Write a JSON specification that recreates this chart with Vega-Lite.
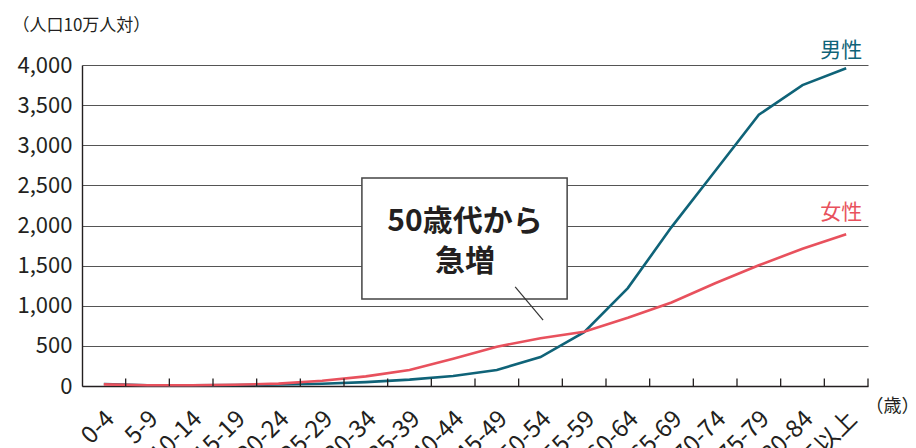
{
  "$schema": "https://vega.github.io/schema/vega-lite/v6.json",
  "width": 786,
  "height": 321,
  "autosize": {"type": "none"},
  "padding": {"left": 82, "top": 65, "right": 48, "bottom": 62},
  "background": "white",
  "config": {
    "view": {"stroke": null},
    "font": "Noto Sans CJK JP",
    "axis": {"labelFont": "Noto Sans CJK JP", "titleFont": "Noto Sans CJK JP", "labelColor": "#231f20", "titleColor": "#231f20"}
  },
  "datasets": {
    "rates": [
      {"age": "0-4", "sex": "男性", "value": 25},
      {"age": "5-9", "sex": "男性", "value": 10},
      {"age": "10-14", "sex": "男性", "value": 10},
      {"age": "15-19", "sex": "男性", "value": 12},
      {"age": "20-24", "sex": "男性", "value": 18},
      {"age": "25-29", "sex": "男性", "value": 28},
      {"age": "30-34", "sex": "男性", "value": 48},
      {"age": "35-39", "sex": "男性", "value": 80},
      {"age": "40-44", "sex": "男性", "value": 125},
      {"age": "45-49", "sex": "男性", "value": 200},
      {"age": "50-54", "sex": "男性", "value": 360},
      {"age": "55-59", "sex": "男性", "value": 670},
      {"age": "60-64", "sex": "男性", "value": 1220},
      {"age": "65-69", "sex": "男性", "value": 1980},
      {"age": "70-74", "sex": "男性", "value": 2680},
      {"age": "75-79", "sex": "男性", "value": 3380},
      {"age": "80-84", "sex": "男性", "value": 3750},
      {"age": "85以上", "sex": "男性", "value": 3960},
      {"age": "0-4", "sex": "女性", "value": 20},
      {"age": "5-9", "sex": "女性", "value": 10},
      {"age": "10-14", "sex": "女性", "value": 10},
      {"age": "15-19", "sex": "女性", "value": 15},
      {"age": "20-24", "sex": "女性", "value": 30},
      {"age": "25-29", "sex": "女性", "value": 65},
      {"age": "30-34", "sex": "女性", "value": 120},
      {"age": "35-39", "sex": "女性", "value": 200},
      {"age": "40-44", "sex": "女性", "value": 340},
      {"age": "45-49", "sex": "女性", "value": 490},
      {"age": "50-54", "sex": "女性", "value": 595},
      {"age": "55-59", "sex": "女性", "value": 675},
      {"age": "60-64", "sex": "女性", "value": 850},
      {"age": "65-69", "sex": "女性", "value": 1040},
      {"age": "70-74", "sex": "女性", "value": 1280},
      {"age": "75-79", "sex": "女性", "value": 1505},
      {"age": "80-84", "sex": "女性", "value": 1710},
      {"age": "85以上", "sex": "女性", "value": 1890}
    ],
    "labels": [
      {"age": "85以上", "sex": "男性", "value": 4175},
      {"age": "85以上", "sex": "女性", "value": 2160}
    ],
    "ticks": [
      {"age": "0-4", "lo": 0, "hi": 95}, {"age": "5-9", "lo": 0, "hi": 95}, {"age": "10-14", "lo": 0, "hi": 95},
      {"age": "15-19", "lo": 0, "hi": 95}, {"age": "20-24", "lo": 0, "hi": 95}, {"age": "25-29", "lo": 0, "hi": 95},
      {"age": "30-34", "lo": 0, "hi": 95}, {"age": "35-39", "lo": 0, "hi": 95}, {"age": "40-44", "lo": 0, "hi": 95},
      {"age": "45-49", "lo": 0, "hi": 95}, {"age": "50-54", "lo": 0, "hi": 95}, {"age": "55-59", "lo": 0, "hi": 95},
      {"age": "60-64", "lo": 0, "hi": 95}, {"age": "65-69", "lo": 0, "hi": 95}, {"age": "70-74", "lo": 0, "hi": 95},
      {"age": "75-79", "lo": 0, "hi": 95}, {"age": "80-84", "lo": 0, "hi": 95}, {"age": "85以上", "lo": 0, "hi": 95}
    ],
    "note": [
      {"x1": 6.41, "x2": 11.11, "y1": 2592, "y2": 1084, "lx1": 9.92, "ly1": 1234, "lx2": 10.56, "ly2": 822, "tx": 8.77, "ty1": 2043, "ty2": 1545, "line1": "50歳代から", "line2": "急増"}
    ]
  },
  "resolve": {"scale": {"x": "independent"}},
  "layer": [
    {
      "layer": [
        {
          "data": {"name": "rates"},
          "mark": {"type": "line", "strokeWidth": 2.6, "clip": false},
          "encoding": {
            "x": {
              "field": "age",
              "type": "ordinal",
              "sort": null,
              "scale": {"type": "band", "paddingInner": 0, "paddingOuter": 0},
              "axis": {
                "title": "（歳）",
                "titleFontSize": 18,
                "titleFontWeight": "normal",
                "titleAngle": 0,
                "titleAlign": "left",
                "titleBaseline": "middle",
                "titleX": 783,
                "titleY": 20,
                "labelAngle": -45,
                "labelAlign": "right",
                "labelBaseline": "middle",
                "labelFontSize": 24,
                "labelPadding": 29,
                "labelOffset": 7,
                "ticks": false,
                "tickSize": 0,
                "domainColor": "#231f20",
                "domainWidth": 1.4,
                "grid": false
              }
            },
            "y": {
              "field": "value",
              "type": "quantitative",
              "scale": {"domain": [0, 4000]},
              "axis": {
                "values": [0, 500, 1000, 1500, 2000, 2500, 3000, 3500, 4000],
                "format": ",d",
                "title": "（人口10万人対）",
                "titleFontSize": 17,
                "titleFontWeight": "normal",
                "titleAngle": 0,
                "titleAlign": "left",
                "titleBaseline": "middle",
                "titleX": -70,
                "titleY": -40,
                "labelFontSize": 22,
                "labelPadding": 10,
                "ticks": false,
                "domainColor": "#231f20",
                "domainWidth": 1.4,
                "gridColor": "#555555",
                "gridWidth": 1
              }
            },
            "color": {
              "field": "sex",
              "type": "nominal",
              "scale": {"domain": ["男性", "女性"], "range": ["#0f6378", "#e8515d"]},
              "legend": null
            }
          }
        },
        {
          "data": {"name": "ticks"},
          "mark": {"type": "rule", "color": "#231f20", "strokeWidth": 1.3},
          "encoding": {
            "x": {"field": "age", "type": "ordinal", "sort": null, "bandPosition": 1},
            "y": {"field": "lo", "type": "quantitative"},
            "y2": {"field": "hi"}
          }
        },
        {
          "data": {"name": "labels"},
          "mark": {"type": "text", "align": "right", "baseline": "middle", "dx": 16, "fontSize": 21, "clip": false},
          "encoding": {
            "x": {"field": "age", "type": "ordinal", "sort": null},
            "y": {"field": "value", "type": "quantitative"},
            "text": {"field": "sex"},
            "color": {"field": "sex", "type": "nominal", "legend": null}
          }
        }
      ]
    },
    {
      "data": {"name": "note"},
      "layer": [
        {
          "mark": {"type": "rect", "fill": "white", "stroke": "#444444", "strokeWidth": 1.5},
          "encoding": {
            "x": {"field": "x1", "type": "quantitative", "scale": {"domain": [0, 18]}, "axis": null},
            "x2": {"field": "x2"},
            "y": {"field": "y1", "type": "quantitative"},
            "y2": {"field": "y2"}
          }
        },
        {
          "mark": {"type": "rule", "stroke": "#333333", "strokeWidth": 1.2},
          "encoding": {
            "x": {"field": "lx1", "type": "quantitative"},
            "x2": {"field": "lx2"},
            "y": {"field": "ly1", "type": "quantitative"},
            "y2": {"field": "ly2"}
          }
        },
        {
          "mark": {"type": "text", "fontSize": 30, "fontWeight": "bold", "color": "#231f20", "align": "center", "baseline": "middle"},
          "encoding": {
            "x": {"field": "tx", "type": "quantitative"},
            "y": {"field": "ty1", "type": "quantitative"},
            "text": {"field": "line1"}
          }
        },
        {
          "mark": {"type": "text", "fontSize": 30, "fontWeight": "bold", "color": "#231f20", "align": "center", "baseline": "middle"},
          "encoding": {
            "x": {"field": "tx", "type": "quantitative"},
            "y": {"field": "ty2", "type": "quantitative"},
            "text": {"field": "line2"}
          }
        }
      ]
    }
  ]
}
